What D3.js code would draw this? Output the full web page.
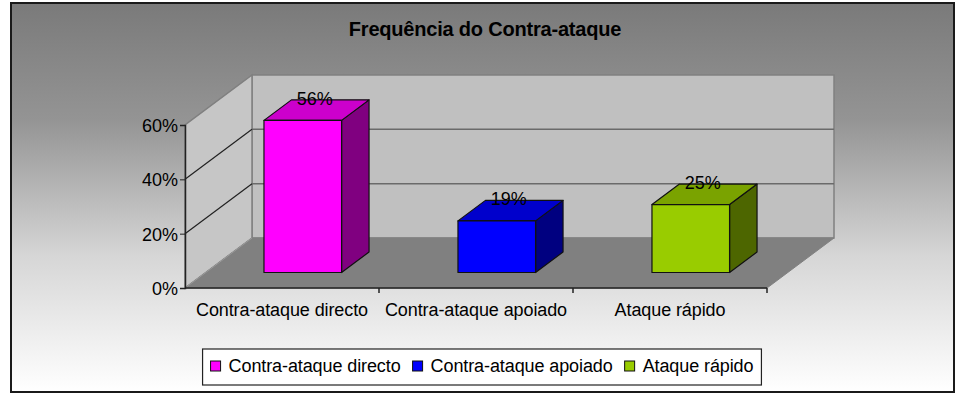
<!DOCTYPE html>
<html>
<head>
<meta charset="utf-8">
<script src="https://cdn.jsdelivr.net/npm/d3@7"></script>
<style>
  body { margin: 0; background: #fff; }
  text { font-family: "Liberation Sans", Arial, sans-serif; fill: #000; }
</style>
</head>
<body>
<div id="chart"></div>
<script>
var svgWidth = 961;
var svgHeight = 393;

// data
var categories = ["Contra-ataque directo", "Contra-ataque apoiado", "Ataque rápido"];
var values = [0.56, 0.19, 0.25];
var barColors = ["#FF00FF", "#0000FF", "#99CC00"];
var yTicks = [0, 0.2, 0.4, 0.6];
var title = "Frequência do Contra-ataque";

// 3d depth offset of the walls
var DX = 67;
var DY = 50;
var barFront = 0.31;
var barBack = 0.72;

var svg = d3.select("#chart")
  .append("svg")
  .attr("width", svgWidth)
  .attr("height", svgHeight);

var defs = svg.append("defs");
var grad = defs.append("linearGradient")
  .attr("id", "bg")
  .attr("x1", 0).attr("y1", 0).attr("x2", 0).attr("y2", 1);
grad.append("stop").attr("offset", "0%").attr("stop-color", "#7a7a7a");
grad.append("stop").attr("offset", "30%").attr("stop-color", "#949494");
grad.append("stop").attr("offset", "65%").attr("stop-color", "#d6d6d6");
grad.append("stop").attr("offset", "100%").attr("stop-color", "#ffffff");

svg.append("rect")
  .attr("x", 11).attr("y", 3)
  .attr("width", 943).attr("height", 389)
  .attr("fill", "url(#bg)")
  .attr("stroke", "#1a1a1a")
  .attr("stroke-width", 2);

svg.append("text")
  .attr("x", 485)
  .attr("y", 36)
  .attr("text-anchor", "middle")
  .style("font-size", "20px")
  .style("font-weight", "bold")
  .style("letter-spacing", "-0.2px")
  .text(title);

var xScale = d3.scaleBand()
  .domain(categories)
  .range([185, 767])
  .paddingInner(0.6)
  .paddingOuter(0.3);

var yScale = d3.scaleLinear()
  .domain([0, 0.6])
  .range([288, 125]);

var step = xScale.step();
var x0 = xScale.range()[0];
var x1 = xScale.range()[1];
var yTop = yScale(0.6);
var yBase = yScale(0);

function pt(x, y, d) {
  return [x + DX * d, y - DY * d];
}
function poly(pts) {
  return pts.map(p => p.join(",")).join(" ");
}

var chartGroup = svg.append("g");

// back wall
chartGroup.append("polygon")
  .attr("points", poly([pt(x0, yTop, 1), pt(x1, yTop, 1), pt(x1, yBase, 1), pt(x0, yBase, 1)]))
  .attr("fill", "#c0c0c0")
  .attr("stroke", "#808080")
  .attr("stroke-width", 1.5);

// left wall
chartGroup.append("polygon")
  .attr("points", poly([pt(x0, yBase, 0), pt(x0, yTop, 0), pt(x0, yTop, 1), pt(x0, yBase, 1)]))
  .attr("fill", "#c6c6c6")
  .attr("stroke", "#808080")
  .attr("stroke-width", 1.5);

// floor
chartGroup.append("polygon")
  .attr("points", poly([pt(x0, yBase, 0), pt(x1, yBase, 0), pt(x1, yBase, 1), pt(x0, yBase, 1)]))
  .attr("fill", "#808080")
  .attr("stroke", "#808080")
  .attr("stroke-width", 1);

// gridlines
var grid = yTicks.filter(t => t > 0 && t < 0.6);
chartGroup.selectAll(".gridBack")
  .data(grid)
  .enter()
  .append("line")
  .attr("x1", x0 + DX).attr("x2", x1 + DX)
  .attr("y1", d => yScale(d) - DY)
  .attr("y2", d => yScale(d) - DY)
  .attr("stroke", "#6a6a6a")
  .attr("stroke-width", 1.5);

chartGroup.selectAll(".gridSide")
  .data(grid)
  .enter()
  .append("line")
  .attr("x1", x0).attr("x2", x0 + DX)
  .attr("y1", d => yScale(d))
  .attr("y2", d => yScale(d) - DY)
  .attr("stroke", "#222")
  .attr("stroke-width", 1.2);

// floor front-left diagonal
chartGroup.append("line")
  .attr("x1", x0).attr("y1", yBase)
  .attr("x2", x0 + DX).attr("y2", yBase - DY)
  .attr("stroke", "#9a9a9a")
  .attr("stroke-width", 1);

// axes
var leftAxis = d3.axisLeft(yScale)
  .tickValues(yTicks)
  .tickFormat(d3.format(".0%"))
  .tickSize(5)
  .tickPadding(2);

var yAxis = chartGroup.append("g")
  .attr("transform", `translate(${x0}, 0)`)
  .call(leftAxis);
yAxis.select(".domain").attr("stroke", "#222").attr("stroke-width", 1.5);
yAxis.selectAll(".tick line").attr("stroke", "#222");
yAxis.selectAll("text")
  .attr("dy", "0.36em")
  .style("font-size", "18px")
  .style("font-family", "Liberation Sans, Arial, sans-serif")
  .attr("fill", "#000");

chartGroup.append("line")
  .attr("x1", x0).attr("x2", x1)
  .attr("y1", yBase).attr("y2", yBase)
  .attr("stroke", "#222")
  .attr("stroke-width", 1.5);

var boundaries = d3.range(categories.length + 1).map(i => x0 + i * step);
chartGroup.selectAll(".xtick")
  .data(boundaries.slice(1))
  .enter()
  .append("line")
  .attr("x1", d => d).attr("x2", d => d)
  .attr("y1", yBase).attr("y2", yBase + 5)
  .attr("stroke", "#222")
  .attr("stroke-width", 1.5);

chartGroup.selectAll(".xlabel")
  .data(categories)
  .enter()
  .append("text")
  .attr("x", d => xScale(d) + xScale.bandwidth() / 2)
  .attr("y", yBase + 28)
  .attr("text-anchor", "middle")
  .style("font-size", "18px")
  .style("letter-spacing", "-0.1px")
  .text(d => d);

// bars
var bars = chartGroup.selectAll(".bar")
  .data(values)
  .enter()
  .append("g");

function shade(c, k) {
  var r = d3.rgb(c);
  return d3.rgb(r.r * k, r.g * k, r.b * k).formatHex();
}

bars.each(function(v, i) {
  var g = d3.select(this);
  var bx0 = xScale(categories[i]);
  var bx1 = bx0 + xScale.bandwidth();
  var by0 = yScale(0);
  var by1 = yScale(v);
  // side
  g.append("polygon")
    .attr("points", poly([pt(bx1, by0, barFront), pt(bx1, by1, barFront), pt(bx1, by1, barBack), pt(bx1, by0, barBack)]))
    .attr("fill", shade(barColors[i], 0.5))
    .attr("stroke", "#111").attr("stroke-width", 1.2).attr("stroke-linejoin", "round");
  // top
  g.append("polygon")
    .attr("points", poly([pt(bx0, by1, barFront), pt(bx1, by1, barFront), pt(bx1, by1, barBack), pt(bx0, by1, barBack)]))
    .attr("fill", shade(barColors[i], 0.8))
    .attr("stroke", "#111").attr("stroke-width", 1.2).attr("stroke-linejoin", "round");
  // front
  g.append("polygon")
    .attr("points", poly([pt(bx0, by0, barFront), pt(bx1, by0, barFront), pt(bx1, by1, barFront), pt(bx0, by1, barFront)]))
    .attr("fill", barColors[i])
    .attr("stroke", "#111").attr("stroke-width", 1.2).attr("stroke-linejoin", "round");
});

// value labels, sitting on the back edge of each bar top
chartGroup.selectAll(".valLabel")
  .data(values)
  .enter()
  .append("text")
  .attr("x", (d, i) => xScale(categories[i]) + xScale.bandwidth() / 2 + DX * barFront + 12)
  .attr("y", d => yScale(d) - DY * barBack + 5)
  .attr("text-anchor", "middle")
  .style("font-size", "18px")
  .attr("fill", "#222")
  .text(d => d3.format(".0%")(d));

// legend
var legend = svg.append("g");
var legendBox = legend.append("rect")
  .attr("fill", "#fff")
  .attr("stroke", "#222")
  .attr("stroke-width", 1.2);

var cursor = 0;
categories.forEach(function(c, i) {
  legend.append("rect")
    .attr("x", cursor).attr("y", -11)
    .attr("width", 10).attr("height", 10)
    .attr("fill", barColors[i])
    .attr("stroke", "#111");
  var t = legend.append("text")
    .attr("x", cursor + 18)
    .attr("y", 0)
    .style("font-size", "18px")
    .style("letter-spacing", "-0.1px")
    .text(c);
  cursor += 18 + t.node().getComputedTextLength() + 12;
});
var legendWidth = cursor - 12;
var lx = 482 - legendWidth / 2;
legend.attr("transform", `translate(${lx}, 372)`);
legendBox
  .attr("x", -8).attr("y", -23)
  .attr("width", legendWidth + 16)
  .attr("height", 36);
</script>
</body>
</html>
